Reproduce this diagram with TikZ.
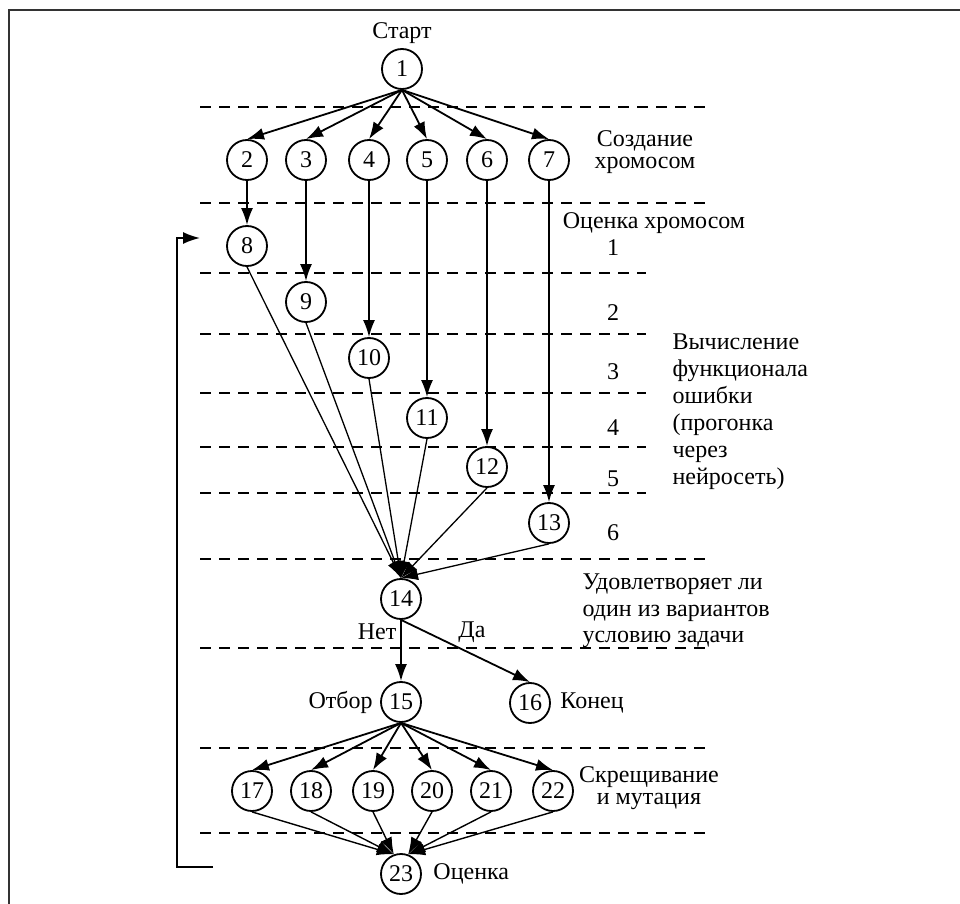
\documentclass[tikz,border=0pt]{standalone}
\usepackage{fontspec}
\setmainfont{Liberation Serif}
\usetikzlibrary{arrows.meta}

\begin{document}
\begin{tikzpicture}[x=0.5pt,y=-0.5pt,>={Latex[length=8.5pt,width=6pt]},
  vtx/.style={shape=circle,draw,line width=0.9pt,minimum size=20pt,inner sep=0pt},
  sep/.style={dash pattern=on 5.5pt off 4pt,line width=0.8pt},
  font=\fontsize{12}{13.3}\selectfont, line width=0.9pt]

  \useasboundingbox (0,0) rectangle (960,904);
  \draw [line width=0.8pt,black!80] (9,904) -- (9,10) -- (960,10);

  % stages
  \draw [sep] (200,107) -- (708,107);
  \draw [sep] (200,203) -- (708,203);
  \draw [sep] (200,273) -- (646,273);
  \draw [sep] (200,334) -- (646,334);
  \draw [sep] (200,393) -- (646,393);
  \draw [sep] (200,447) -- (646,447);
  \draw [sep] (200,493) -- (646,493);
  \draw [sep] (200,559) -- (708,559);
  \draw [sep] (200,648) -- (708,648);
  \draw [sep] (200,748) -- (710,748);
  \draw [sep] (200,833) -- (710,833);

  \node (n1) at (402,69) [vtx, label={[label distance=-1.5pt]above:Старт}] {1};
  \node (n2) at (247,160) [vtx] {2};
  \node (n3) at (306,160) [vtx] {3};
  \node (n4) at (369,160) [vtx] {4};
  \node (n5) at (427,160) [vtx] {5};
  \node (n6) at (487,160) [vtx] {6};
  \node (n7) at (549,160) [vtx] {7};
  \node (n8) at (247,246) [vtx] {8};
  \node (n9) at (306,302) [vtx] {9};
  \node (n10) at (369,358) [vtx] {10};
  \node (n11) at (427,418) [vtx] {11};
  \node (n12) at (487,467) [vtx] {12};
  \node (n13) at (549,523) [vtx] {13};
  \node (n14) at (401,599) [vtx] {14};
  \node (n15) at (401,702) [vtx, label=left:Отбор] {15};
  \node (n16) at (530,703) [vtx, label={[label distance=1pt]right:Конец}] {16};
  \node (n17) at (252,791) [vtx] {17};
  \node (n18) at (311,791) [vtx] {18};
  \node (n19) at (373,791) [vtx] {19};
  \node (n20) at (432,791) [vtx] {20};
  \node (n21) at (491,791) [vtx] {21};
  \node (n22) at (553,791) [vtx] {22};
  \node (n23) at (401,874) [vtx, label={[label distance=2pt]right:Оценка}] {23};

  \node (create) at (645,152) [align=center, font=\fontsize{12}{11}\selectfont] {Создание\\хромосом};
  \node (estim) at (654,223) {Оценка хромосом};
  \node (s1) at (613,248) {1};
  \node (s2) at (613,313) {2};
  \node (s3) at (613,372) {3};
  \node (s4) at (613,428) {4};
  \node (s5) at (613,479) {5};
  \node (s6) at (613,533) {6};
  \node (calc) at (665,412) [anchor=west, align=left, font=\fontsize{12}{13.5}\selectfont]
    {Вычисление\\функционала\\ошибки\\(прогонка\\через\\нейросеть)};
  \node (check) at (575,611) [anchor=west, align=left, font=\fontsize{12}{13.2}\selectfont]
    {Удовлетворяет ли\\один из вариантов\\условию задачи};
  \node (no) at (377,632) {Нет};
  \node (yes) at (472,632) {Да};
  \node (cross) at (649,788) [align=center, font=\fontsize{12}{11}\selectfont] {Скрещивание\\и мутация};

  \draw [->] (n1.south) -- (n2.north);
  \draw [->] (n1.south) -- (n3.north);
  \draw [->] (n1.south) -- (n4.north);
  \draw [->] (n1.south) -- (n5.north);
  \draw [->] (n1.south) -- (n6.north);
  \draw [->] (n1.south) -- (n7.north);

  \draw [->] (n2) -- (n8);
  \draw [->] (n3) -- (n9);
  \draw [->] (n4) -- (n10);
  \draw [->] (n5) -- (n11);
  \draw [->] (n6) -- (n12);
  \draw [->] (n7) -- (n13);

  \draw [->,line width=0.65pt] (n8.south) -- (n14.north);
  \draw [->,line width=0.65pt] (n9.south) -- (n14.north);
  \draw [->,line width=0.65pt] (n10.south) -- (n14.north);
  \draw [->,line width=0.65pt] (n11.south) -- (n14.north);
  \draw [->,line width=0.65pt] (n12.south) -- (n14.north);
  \draw [->,line width=0.65pt] (n13.south) -- (n14.north);

  \draw [->] (n14) -- (n15);
  \draw [->] (n14.south) -- (n16.north);

  \draw [->] (n15.south) -- (n17.north);
  \draw [->] (n15.south) -- (n18.north);
  \draw [->] (n15.south) -- (n19.north);
  \draw [->] (n15.south) -- (n20.north);
  \draw [->] (n15.south) -- (n21.north);
  \draw [->] (n15.south) -- (n22.north);

  \draw [->,line width=0.7pt] (n17.south) -- (n23.110);
  \draw [->,line width=0.7pt] (n18.south) -- (n23.110);
  \draw [->,line width=0.7pt] (n19.south) -- (n23.110);
  \draw [->,line width=0.7pt] (n20.south) -- (n23.70);
  \draw [->,line width=0.7pt] (n21.south) -- (n23.70);
  \draw [->,line width=0.7pt] (n22.south) -- (n23.70);

  % back to evaluation
  \coordinate (back) at (213,867);
  \coordinate (again) at (200,238);
  \draw [->] (back) -- (177,867) |- (again);
\end{tikzpicture}
\end{document}
